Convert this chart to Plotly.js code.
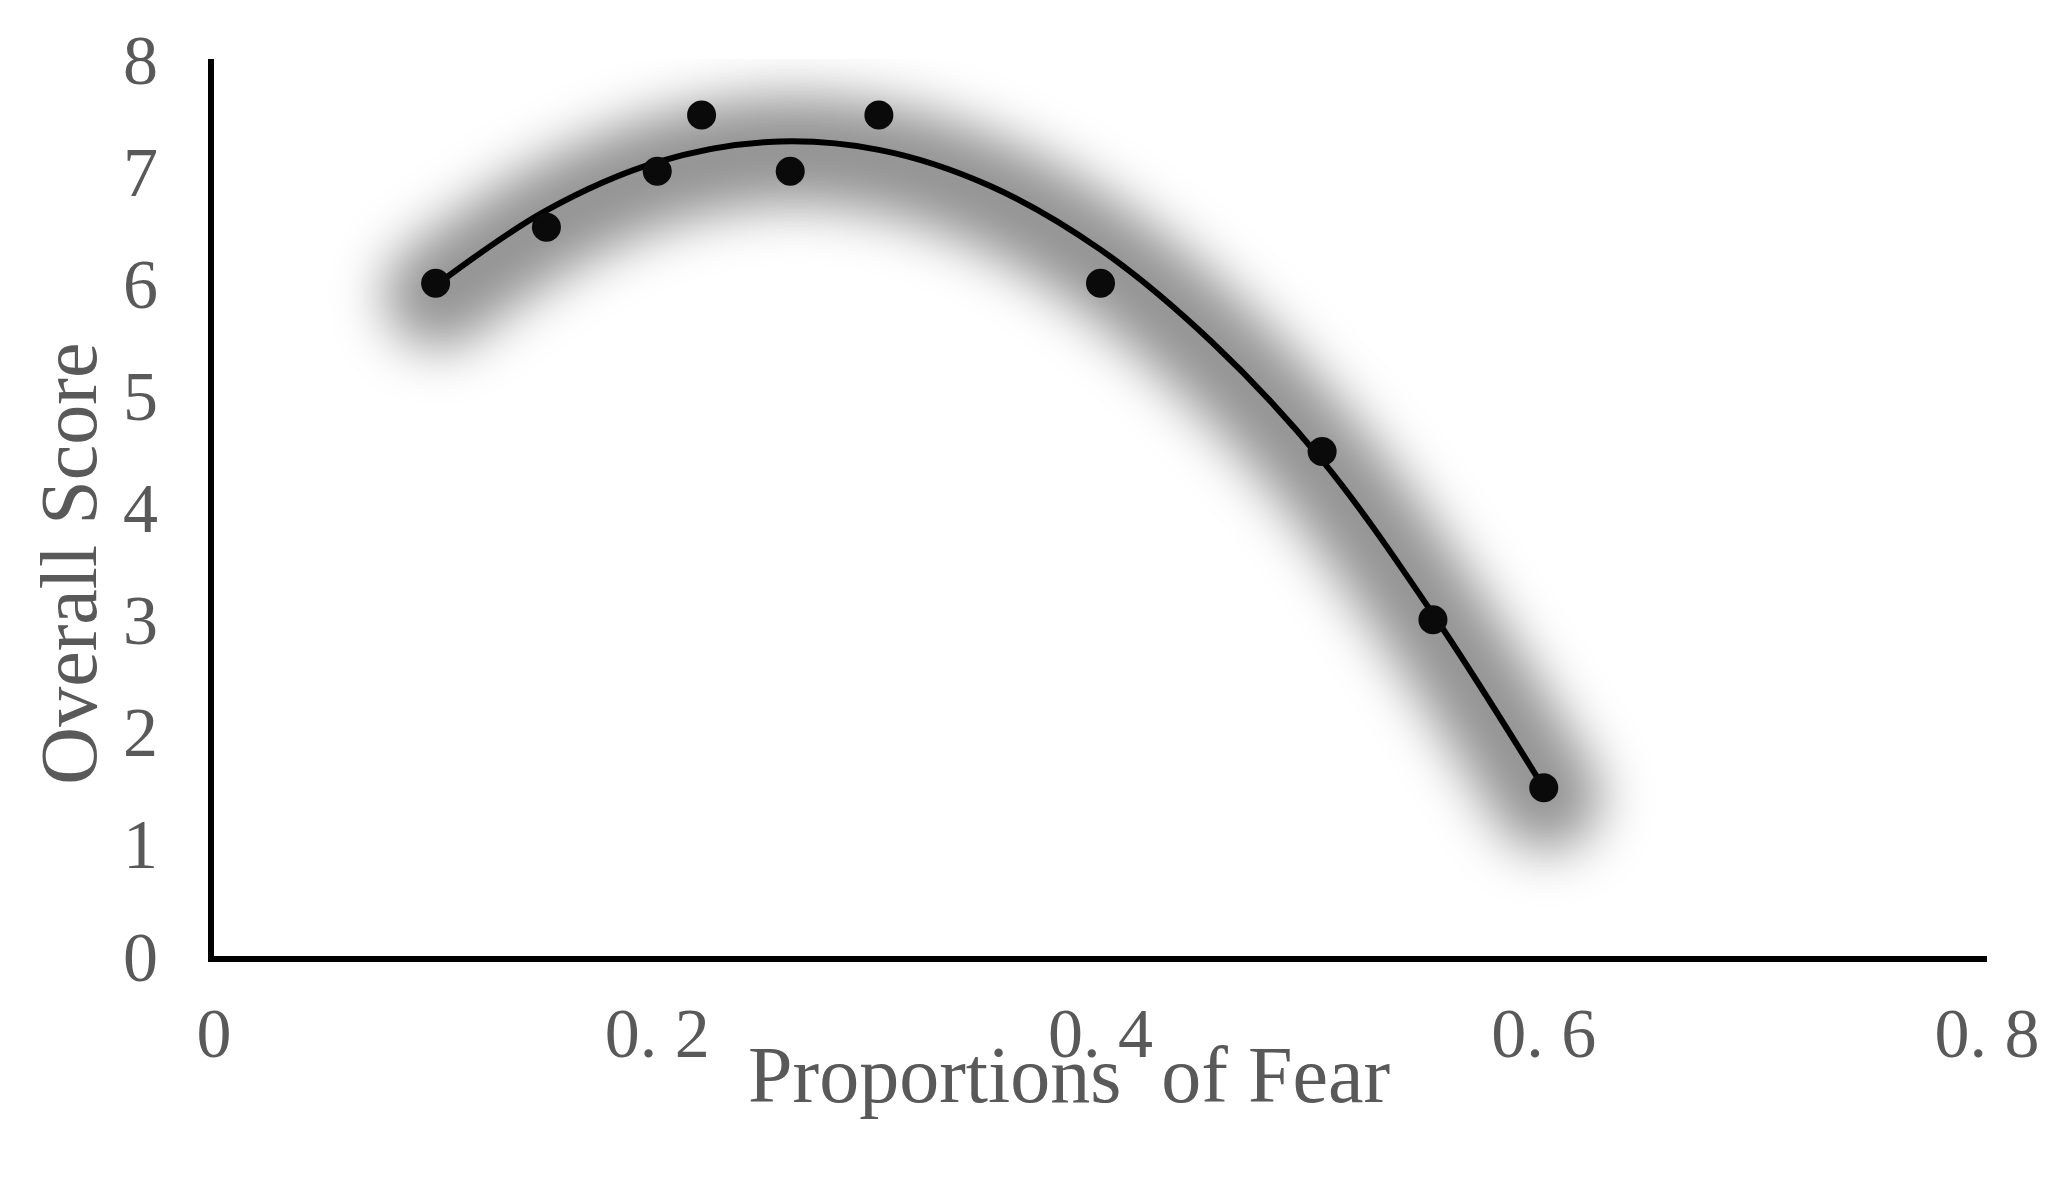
<!DOCTYPE html>
<html>
<head>
<meta charset="utf-8">
<script src="https://cdn.plot.ly/plotly-3.0.1.min.js"></script>
<style>
  body { margin: 0; background: #fff; }
  #chart { width: 2059px; height: 1183px; }
  /* soft glow under the trend line */
  .scatterlayer .trace:first-child path.js-line {
    filter: url(#glow);
    stroke-linecap: round;
    transform: translate(3px, 9px);
  }
</style>
</head>
<body>
<svg width="0" height="0" style="position:absolute">
  <defs>
    <filter id="glow" filterUnits="userSpaceOnUse" x="-1000" y="-1000" width="5000" height="5000">
      <feGaussianBlur stdDeviation="26"/>
    </filter>
  </defs>
</svg>
<div id="chart"></div>
<script>
// measured points
var fearProp = [0.10, 0.15, 0.20, 0.22, 0.26, 0.30, 0.40, 0.50, 0.55, 0.60];
var overallScore = [6.0, 6.5, 7.0, 7.5, 7.0, 7.5, 6.0, 4.5, 3.0, 1.5];

// trend curve
var trendX = [0.10, 0.15, 0.20, 0.25, 0.30, 0.35, 0.40, 0.45, 0.50, 0.55, 0.60];
var trendY = [5.98, 6.65, 7.08, 7.26, 7.19, 6.87, 6.30, 5.48, 4.42, 3.05, 1.50];

var xTickVals = [0, 0.2, 0.4, 0.6, 0.8];
var xTickText = ['0', '0. 2', '0. 4', '0. 6', '0. 8'];
var yTickVals = [0, 1, 2, 3, 4, 5, 6, 7, 8];

var serif = '"Liberation Serif", "DejaVu Serif", serif';
var grey = '#595959';

var shadow = {
    x: trendX,
    y: trendY,
    type: 'scatter',
    mode: 'lines',
    line: {color: 'rgba(0,0,0,0.42)', width: 108, shape: 'spline', smoothing: 1},
    hoverinfo: 'skip',
    showlegend: false
};

var trend = {
    x: trendX,
    y: trendY,
    type: 'scatter',
    mode: 'lines',
    line: {color: '#000000', width: 6, shape: 'spline', smoothing: 1},
    showlegend: false
};

var points = {
    x: fearProp,
    y: overallScore,
    type: 'scatter',
    mode: 'markers',
    marker: {color: '#0a0a0a', size: 29, line: {width: 0}},
    showlegend: false
};

var layout = {
    width: 2059,
    height: 1183,
    margin: {l: 214, r: 72, t: 59, b: 227},
    paper_bgcolor: '#ffffff',
    plot_bgcolor: '#ffffff',
    showlegend: false,
    xaxis: {
        range: [0, 0.8],
        tickvals: xTickVals,
        ticktext: xTickText,
        ticks: '',
        showgrid: false,
        zeroline: false,
        showline: true,
        linecolor: '#000000',
        linewidth: 6,
        ticklabelstandoff: 11,
        tickfont: {family: serif, size: 70, color: grey}
    },
    yaxis: {
        range: [0, 8],
        tickvals: yTickVals,
        ticks: '',
        showgrid: false,
        zeroline: false,
        showline: true,
        linecolor: '#000000',
        linewidth: 6,
        ticklabelstandoff: 36,
        tickfont: {family: serif, size: 70, color: grey}
    },
    annotations: [
        {
            text: 'Overall Score',
            xref: 'paper', yref: 'paper',
            x: -0.082, y: 0.437,
            xanchor: 'center', yanchor: 'middle',
            textangle: -90,
            showarrow: false,
            font: {family: serif, size: 80, color: grey}
        },
        {
            text: 'Proportions\u00a0 of Fear',
            xref: 'paper', yref: 'paper',
            x: 0.482, y: -0.133,
            xanchor: 'center', yanchor: 'middle',
            showarrow: false,
            font: {family: serif, size: 80, color: grey}
        }
    ]
};

Plotly.newPlot('chart', [shadow, trend, points], layout, {displayModeBar: false, responsive: false});
</script>
</body>
</html>
